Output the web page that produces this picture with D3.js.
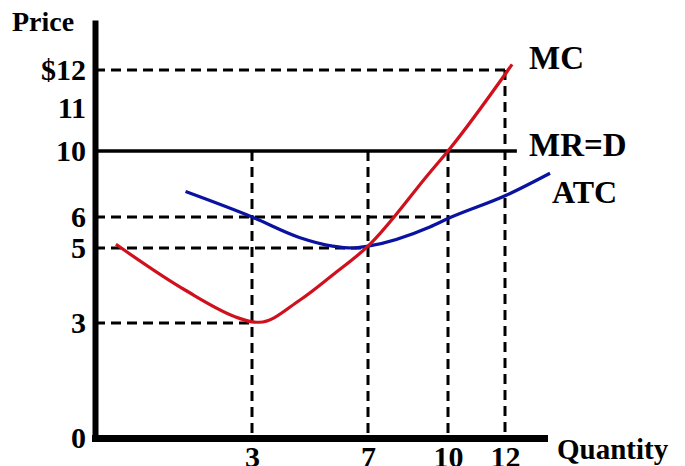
<!DOCTYPE html>
<html>
<head>
<meta charset="utf-8">
<script src="https://cdn.jsdelivr.net/npm/d3@7"></script>
<style>
  html, body { margin: 0; padding: 0; background: #fff; }
  svg { display: block; }
  text { font-family: "Liberation Serif", "Times New Roman", serif; font-weight: bold; fill: #000; }
</style>
</head>
<body>
<svg id="chart" width="685" height="466"></svg>
<script>
// ---- data ----
const priceTicks = [0, 3, 5, 6, 10, 11, 12];
const quantityTicks = [3, 7, 10, 12];
const mcQ = [0.4, 1.72, 2.75, 3.0, 3.25, 4.63, 5.78, 7.0, 9.32, 10.0, 12.28];
const mcP = [5.12, 3.88, 3.13, 3.03, 3.02, 3.6, 4.28, 5.06, 8.7, 10.0, 12.15];
const atcQ = [1.73, 3.0, 4.63, 5.78, 6.48, 7.0, 9.32, 10.0, 12.07, 13.78];
const atcP = [7.54, 6.0, 5.34, 5.06, 5.0, 5.06, 5.68, 5.95, 7.33, 8.65];
const mrPrice = 10;
const mrQEnd = 12.47;
const hGuideP = [12, 6, 5, 3];
const hGuideQ = [12, 10, 7, 3];
const vGuideQ = [3, 7, 10, 12];
const vGuideP = [10, 10, 10, 12];
const labels = ["MC", "MR=D", "ATC"];

// ---- scales (hand-drawn diagram, not to scale: piecewise linear) ----
const x = d3.scaleLinear()
  .domain([0, 3, 7, 10, 12, 13.7])
  .range([95, 252, 368, 448, 505, 548]);
const y = d3.scaleLinear()
  .domain([0, 3, 5, 6, 10, 11, 12, 13.35])
  .range([438, 323, 248, 217, 151, 108, 70, 20]);

const svg = d3.select("#chart");

// guides
const g = svg.append("g").attr("stroke", "#000").attr("stroke-width", 3).attr("stroke-dasharray", "10,6").attr("fill", "none");
hGuideP.forEach((p, i) => {
  g.append("line").attr("x1", x(0)).attr("x2", x(hGuideQ[i])).attr("y1", y(p)).attr("y2", y(p));
});
vGuideQ.forEach((q, i) => {
  g.append("line").attr("x1", x(q)).attr("x2", x(q)).attr("y1", y(vGuideP[i])).attr("y2", y(0));
});

// MR = D
svg.append("line")
  .attr("x1", x(0)).attr("x2", x(mrQEnd))
  .attr("y1", y(mrPrice)).attr("y2", y(mrPrice))
  .attr("stroke", "#000").attr("stroke-width", 3.5);

// curves
const line = d3.line().x(d => x(d[0])).y(d => y(d[1])).curve(d3.curveMonotoneX);
svg.append("path")
  .datum(atcQ.map((q, i) => [q, atcP[i]]))
  .attr("d", line).attr("fill", "none").attr("stroke", "#0a12a0").attr("stroke-width", 3.2);
svg.append("path")
  .datum(mcQ.map((q, i) => [q, mcP[i]]))
  .attr("d", line).attr("fill", "none").attr("stroke", "#d0101c").attr("stroke-width", 3.2);

// axes
const yAxis = d3.axisLeft(y).tickValues(priceTicks).tickSize(0).tickPadding(9)
  .tickFormat(d => d === 12 ? "$12" : String(d));
const yg = svg.append("g").attr("transform", `translate(${x(0)},0)`).call(yAxis);
yg.select(".domain").attr("stroke", "#000").attr("stroke-width", 6);
yg.selectAll("text").style("font-size", "30px").style("font-family", "Liberation Serif").style("font-weight", "bold");

const xAxis = d3.axisBottom(x).tickValues(quantityTicks).tickSize(0).tickPadding(8);
const xg = svg.append("g").attr("transform", `translate(0,${y(0)})`).call(xAxis);
xg.select(".domain").attr("stroke", "#000").attr("stroke-width", 7).attr("d", `M${x(0) - 3},0.5H${x(13.7)}`);
xg.selectAll("text").style("font-size", "30px").style("font-family", "Liberation Serif").style("font-weight", "bold");

// titles
svg.append("text").attr("x", 12).attr("y", 31).style("font-size", "28px").text("Price");
svg.append("text").attr("x", 557).attr("y", 459).style("font-size", "29px").text("Quantity");

// curve labels
svg.append("text").attr("x", 529).attr("y", 69).style("font-size", "33px").text(labels[0]);
svg.append("text").attr("x", 529).attr("y", 156).style("font-size", "33px").text(labels[1]);
svg.append("text").attr("x", 552).attr("y", 203).style("font-size", "32px").text(labels[2]);
</script>
</body>
</html>
